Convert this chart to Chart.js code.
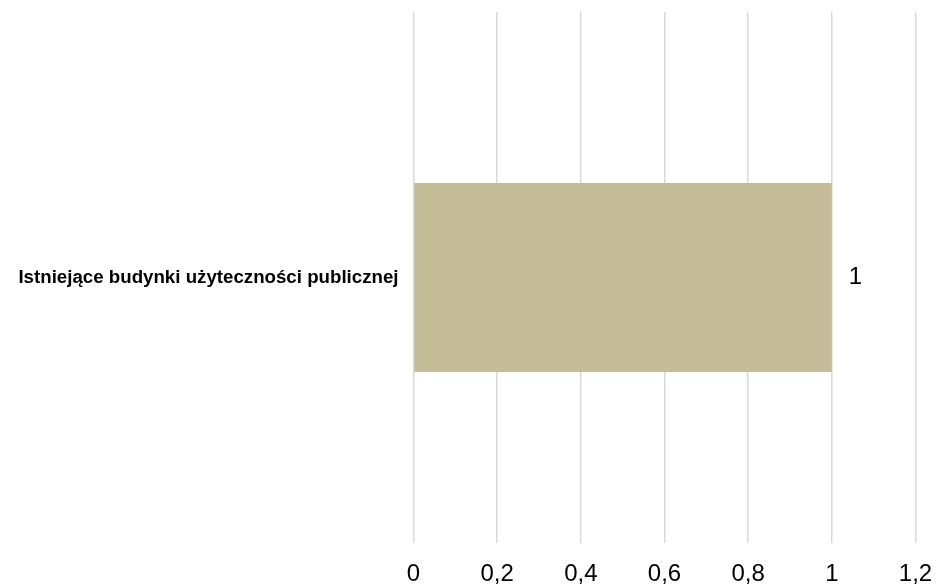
<!DOCTYPE html>
<html>
<head>
<meta charset="utf-8">
<script src="https://cdn.jsdelivr.net/npm/chart.js@4/dist/chart.umd.min.js"></script>
<style>
  html, body { margin: 0; padding: 0; background: #fff; }
</style>
</head>
<body>
<canvas id="chart" width="940" height="587"></canvas>
<script>
// --- data ---
const categories = ['Istniejące budynki użyteczności publicznej'];
const values = [1];
const xTickLabels = ['0', '0,2', '0,4', '0,6', '0,8', '1', '1,2'];

const fontFamily = '"Liberation Sans", Arial, sans-serif';

// draws the value next to the end of each bar
const valueLabels = {
  id: 'valueLabels',
  afterDatasetsDraw(chart) {
    const ctx = chart.ctx;
    const meta = chart.getDatasetMeta(0);
    ctx.save();
    ctx.font = '24px ' + fontFamily;
    ctx.fillStyle = '#000';
    ctx.textAlign = 'left';
    ctx.textBaseline = 'middle';
    meta.data.forEach((bar, i) => {
      ctx.fillText(String(values[i]), bar.x + 17, bar.y);
    });
    ctx.restore();
  }
};

new Chart(document.getElementById('chart'), {
  type: 'bar',
  data: {
    labels: categories,
    datasets: [{
      data: values,
      backgroundColor: '#c4bd97',
      borderWidth: 0,
      categoryPercentage: 1,
      barPercentage: 0.356
    }]
  },
  options: {
    indexAxis: 'y',
    responsive: false,
    animation: false,
    layout: { padding: { top: 12, right: 24.5, bottom: 0, left: 0 } },
    plugins: {
      legend: { display: false },
      tooltip: { enabled: false }
    },
    scales: {
      x: {
        min: 0,
        max: 1.2,
        afterFit(scale) {
          scale.height = 44;
          scale.paddingLeft = 0;
          scale.paddingRight = 0;
        },
        ticks: {
          stepSize: 0.2,
          padding: 17,
          color: '#000',
          font: { family: fontFamily, size: 24 },
          callback: (value, index) => xTickLabels[index]
        },
        grid: { color: '#d9d9d9', lineWidth: 1.5, drawTicks: false },
        border: { display: false }
      },
      y: {
        afterFit(scale) {
          scale.width = 413.5;
          scale.paddingTop = 0;
          scale.paddingBottom = 0;
        },
        ticks: {
          padding: 15,
          color: '#000',
          font: { family: fontFamily, size: 18.7, weight: 'bold' }
        },
        grid: { display: false, drawTicks: false },
        border: { display: false }
      }
    }
  },
  plugins: [valueLabels]
});
</script>
</body>
</html>
